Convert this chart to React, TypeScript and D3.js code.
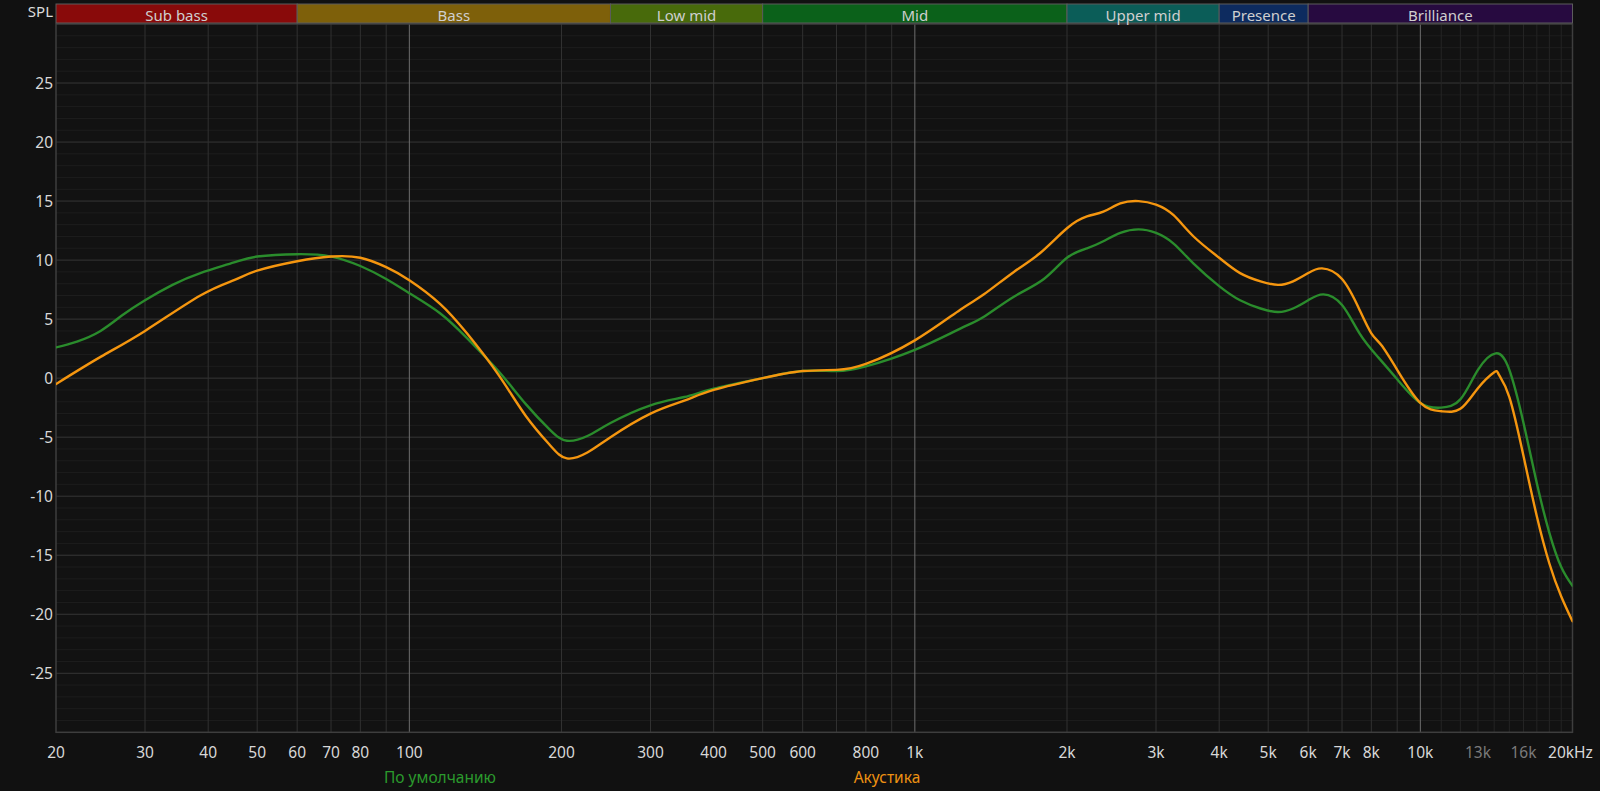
import React from "react";
import * as d3 from "d3";

const W = 1600;
const H = 791;
const PLOT = { left: 56, right: 1572.5, top: 24, bottom: 732.3 };
const BAND_TOP = 4;
const BAND_BOTTOM = 23;

// Frequency bands
const bandNames = ["Sub bass", "Bass", "Low mid", "Mid", "Upper mid", "Presence", "Brilliance"];
const bandEdges = [20, 60, 250, 500, 2000, 4000, 6000, 20000];
const bandColors = ["#890a0a", "#7e600a", "#486a0b", "#0b611a", "#0b5d58", "#0d2b5f", "#270a40"];

// Axis ticks
const xTickValues = [20, 30, 40, 50, 60, 70, 80, 100, 200, 300, 400, 500, 600, 800, 1000, 2000, 3000, 4000, 5000, 6000, 7000, 8000, 10000, 13000, 16000, 20000];
const xTickLabels = ["20", "30", "40", "50", "60", "70", "80", "100", "200", "300", "400", "500", "600", "800", "1k", "2k", "3k", "4k", "5k", "6k", "7k", "8k", "10k", "13k", "16k", "20kHz"];
const dimTickValues = [13000, 16000];
const yTickValues = [-25, -20, -15, -10, -5, 0, 5, 10, 15, 20, 25];

// Series names
const seriesNames = ["По умолчанию", "Акустика"];
const seriesColors = ["#2a8c2c", "#f5960f"];
const legendColors = ["#2b9a2d", "#ee9112"];

// Series 1: По умолчанию (green)
const freqDefault = [20, 22, 24.5, 27, 30, 34, 38.6, 45, 50, 60, 70, 80, 90, 100, 115, 130, 150, 170, 190, 205, 225, 250, 300, 350, 400, 500, 600, 700, 800, 1000, 1230, 1370, 1570, 1800, 2000, 2190, 2360, 2550, 2770, 3000, 3250, 3560, 4000, 4400, 4830, 5230, 5600, 6000, 6430, 7000, 7580, 8240, 9000, 10000, 11000, 12000, 13000, 14100, 15000, 16000, 17000, 18000, 19000, 20000];
const dbDefault = [2.6, 3.1, 4.0, 5.3, 6.6, 7.9, 8.9, 9.8, 10.3, 10.5, 10.3, 9.5, 8.4, 7.2, 5.5, 3.4, 0.6, -2.2, -4.4, -5.3, -4.9, -3.8, -2.3, -1.6, -0.9, 0, 0.6, 0.6, 1.0, 2.4, 4.2, 5.2, 6.9, 8.4, 10.2, 11.0, 11.6, 12.3, 12.6, 12.3, 11.4, 9.7, 7.8, 6.6, 5.9, 5.6, 5.9, 6.6, 7.1, 6.2, 3.8, 1.8, -0.1, -2.1, -2.5, -1.8, 0.7, 2.1, 0.7, -3.8, -8.9, -13.1, -16.0, -17.6];

// Series 2: Акустика (orange)
const freqAcoustic = [20, 24.5, 30, 38.6, 45, 50, 60, 70, 80, 90, 100, 115, 130, 150, 170, 190, 205, 225, 250, 300, 350, 400, 500, 600, 700, 800, 1000, 1230, 1370, 1570, 1770, 2000, 2190, 2360, 2550, 2770, 3000, 3250, 3560, 4000, 4400, 4830, 5230, 5600, 6000, 6390, 7000, 7580, 8000, 8370, 9000, 10000, 11000, 12000, 13000, 14000, 14300, 15000, 16000, 17000, 18000, 19000, 20000];
const dbAcoustic = [-0.5, 1.8, 4.0, 7.0, 8.3, 9.1, 9.9, 10.3, 10.2, 9.4, 8.3, 6.3, 3.8, 0.3, -3.2, -5.7, -6.8, -6.3, -5.0, -3.0, -1.9, -1.0, 0, 0.6, 0.7, 1.2, 3.2, 5.8, 7.1, 9.0, 10.6, 12.7, 13.7, 14.1, 14.8, 15.0, 14.7, 13.8, 12.0, 10.2, 8.9, 8.2, 7.9, 8.2, 8.9, 9.3, 8.4, 5.8, 3.8, 2.8, 0.7, -2.1, -2.8, -2.6, -0.85, 0.5, 0.3, -1.6, -6.6, -11.7, -15.7, -18.5, -20.6];

const FONT = "'Noto Sans', 'Open Sans', sans-serif";

export default function App() {
  const x = d3.scaleLog().domain([20, 20000]).range([PLOT.left, PLOT.right]);
  const y = d3.scaleLinear().domain([-30, 30]).range([PLOT.bottom, PLOT.top]);

  // grid lines
  const vMinor: number[] = [];
  for (const d of [10, 100, 1000, 10000]) {
    for (let m = 1; m <= 9; m++) {
      const f = m * d;
      if (f > 20 && f < 20000 && f !== 100 && f !== 1000 && f !== 10000) vMinor.push(f);
    }
  }
  const vFine: number[] = [];
  for (let f = 11000; f <= 19000; f += 1000) vFine.push(f);
  const vMajor = [100, 1000, 10000];
  const hMinor = d3.range(-29, 30).filter((v) => v % 5 !== 0);
  const hMajor = d3.range(-25, 30, 5);

  const line = d3
    .line<[number, number]>()
    .x((d) => x(d[0]))
    .y((d) => y(d[1]))
    .curve(d3.curveNatural);

  const series = [
    { name: seriesNames[0], pts: freqDefault.map((f, i) => [f, dbDefault[i]] as [number, number]), color: seriesColors[0] },
    { name: seriesNames[1], pts: freqAcoustic.map((f, i) => [f, dbAcoustic[i]] as [number, number]), color: seriesColors[1] },
  ];

  return (
    <div style={{ position: "fixed", left: 0, top: 0, width: W, height: H, background: "#111111" }}>
      <svg width={W} height={H} style={{ display: "block" }} fontFamily={FONT}>
        <defs>
          <clipPath id="plotClip">
            <rect x={PLOT.left} y={PLOT.top} width={PLOT.right - PLOT.left} height={PLOT.bottom - PLOT.top} />
          </clipPath>
        </defs>
        <rect x={0} y={0} width={W} height={H} fill="#111111" />
        <rect x={PLOT.left} y={PLOT.top} width={PLOT.right - PLOT.left} height={PLOT.bottom - PLOT.top} fill="#121212" />

        {/* horizontal grid */}
        {hMinor.map((v) => (
          <line key={"hm" + v} x1={PLOT.left} x2={PLOT.right} y1={y(v)} y2={y(v)} stroke="#1d1d1d" strokeWidth={1} />
        ))}
        {hMajor.map((v) => (
          <line key={"hM" + v} x1={PLOT.left} x2={PLOT.right} y1={y(v)} y2={y(v)} stroke="#363636" strokeWidth={1} />
        ))}
        {/* vertical grid */}
        {vFine.map((f) => (
          <line key={"vf" + f} x1={x(f)} x2={x(f)} y1={PLOT.top} y2={PLOT.bottom} stroke="#242424" strokeWidth={1} />
        ))}
        {vMinor.map((f) => (
          <line key={"vm" + f} x1={x(f)} x2={x(f)} y1={PLOT.top} y2={PLOT.bottom} stroke="#313131" strokeWidth={1} />
        ))}
        {vMajor.map((f) => (
          <line key={"vM" + f} x1={x(f)} x2={x(f)} y1={PLOT.top} y2={PLOT.bottom} stroke="#6e6e6e" strokeWidth={1} />
        ))}

        {/* frame */}
        <rect x={PLOT.left} y={PLOT.top} width={PLOT.right - PLOT.left} height={PLOT.bottom - PLOT.top} fill="none" stroke="#3e3e3e" strokeWidth={1.5} />

        {/* bands */}
        {bandNames.map((name, i) => {
          const x0 = x(bandEdges[i]);
          const x1 = x(bandEdges[i + 1]);
          return (
            <g key={name}>
              <rect x={x0} y={BAND_TOP} width={x1 - x0} height={BAND_BOTTOM - BAND_TOP} fill={bandColors[i]} stroke="#5c5c5c" strokeWidth={1} />
              <text x={(x0 + x1) / 2} y={(BAND_TOP + BAND_BOTTOM) / 2 + 1} textAnchor="middle" dominantBaseline="central" fontSize={15} fill="#cfcfcf">
                {name}
              </text>
            </g>
          );
        })}

        {/* SPL label */}
        <text x={53} y={11} textAnchor="end" dominantBaseline="central" fontSize={15} fill="#dcdcdc">SPL</text>

        {/* y ticks */}
        {yTickValues.map((v) => (
          <text key={"yt" + v} x={53} y={y(v)} textAnchor="end" dominantBaseline="central" fontSize={15.5} fill="#d8d8d8">
            {v}
          </text>
        ))}

        {/* x ticks */}
        {xTickValues.map((f, i) => (
          <text key={"xt" + f} x={x(f) - (i === xTickValues.length - 1 ? 2 : 0)} y={752} textAnchor="middle" dominantBaseline="central" fontSize={15.5} fill={dimTickValues.includes(f) ? "#7a7a7a" : "#d8d8d8"}>
            {xTickLabels[i]}
          </text>
        ))}

        {/* curves */}
        <g clipPath="url(#plotClip)">
          {series.map((s) => (
            <path key={s.name} d={line(s.pts) || ""} fill="none" stroke={s.color} strokeWidth={2.4} strokeLinejoin="round" strokeLinecap="round" />
          ))}
        </g>

        {/* legend */}
        <text x={440} y={777} textAnchor="middle" dominantBaseline="central" fontSize={15.5} fill={legendColors[0]}>
          {seriesNames[0]}
        </text>
        <text x={887} y={777} textAnchor="middle" dominantBaseline="central" fontSize={15.5} fill={legendColors[1]}>
          {seriesNames[1]}
        </text>
      </svg>
    </div>
  );
}
